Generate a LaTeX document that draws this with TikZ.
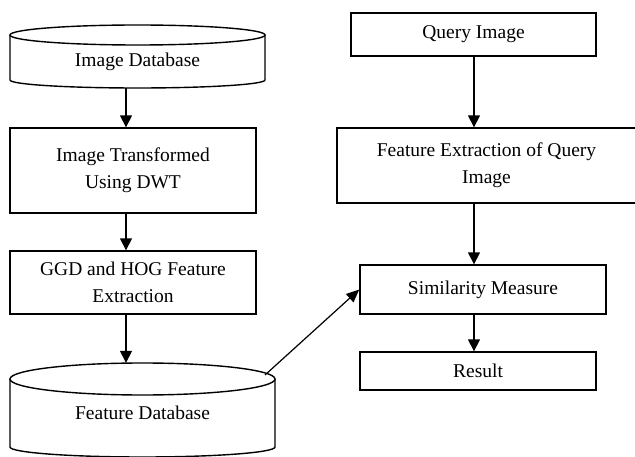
\documentclass[tikz,border=0pt]{standalone}
\usepackage{fontspec}
\setmainfont{Liberation Serif}
\usepackage{tikz}
\usetikzlibrary{arrows.meta,calc}

\begin{document}
\begin{tikzpicture}[x=1pt,y=1pt,
  box/.style={draw,line width=1.4pt,align=center,inner sep=0pt,font=\fontsize{19.5}{27}\selectfont},
  dbase/.style={inner sep=0pt,font=\fontsize{19.5}{27}\selectfont},
  flow/.style={line width=1.6pt,-{Triangle[length=12pt,width=12pt]}},
  thin flow/.style={line width=1.2pt,-{Triangle[length=13pt,width=11pt]}}]
\useasboundingbox (0,0) rectangle (635,-457);
\clip (0,0) rectangle (635,-457);
\coordinate (lcol) at (126,0);
\coordinate (rcol) at (474,0);

\draw[line width=1.4pt] (137.5,-35) ellipse [x radius=127.5pt,y radius=10pt];
\draw[line width=1.4pt] (10,-35) -- (10,-80) arc[start angle=180,end angle=360,x radius=127.5pt,y radius=8pt] -- (265,-35);
\node[dbase,minimum width=255pt,minimum height=52pt] (imgdb) at (137.5,-62) {Image Database};

\node[box,minimum width=246pt,minimum height=85pt] (dwt) at (133,-170.5) {Image Transformed\\Using DWT};
\node[box,minimum width=246pt,minimum height=63pt] (ggd) at (133,-282.5) {GGD and HOG Feature\\Extraction};

\draw[line width=1.4pt] (142.5,-379) ellipse [x radius=132.5pt,y radius=16pt];
\draw[line width=1.4pt] (10,-379) -- (10,-447) arc[start angle=180,end angle=360,x radius=132.5pt,y radius=10pt] -- (275,-379);
\node[dbase,minimum width=265pt,minimum height=100pt] (featdb) at (142.5,-413) {Feature Database};
\coordinate (fdbout) at (265,-375);

\node[box,minimum width=245pt,minimum height=43pt] (query) at (473.5,-34.5) {Query Image};
\node[box,minimum width=299pt,minimum height=75pt] (fquery) at (486.5,-165.5) {Feature Extraction of Query\\Image};
\node[box,minimum width=246pt,minimum height=49pt] (sim) at (483,-289.5) {Similarity Measure};
\node[box,minimum width=236pt,minimum height=38pt] (result) at (478,-371) {Result};

\draw[flow] (imgdb.south -| lcol) -- (dwt.north -| lcol);
\draw[flow] (dwt.south -| lcol) -- (ggd.north -| lcol);
\draw[flow] (ggd.south -| lcol) -- (featdb.north -| lcol);
\draw[flow] (query.south -| rcol) -- (fquery.north -| rcol);
\draw[flow] (fquery.south -| rcol) -- (sim.north -| rcol);
\draw[flow] (sim.south -| rcol) -- (result.north -| rcol);
\draw[thin flow] (fdbout) -- (sim.west);
\end{tikzpicture}
\end{document}
